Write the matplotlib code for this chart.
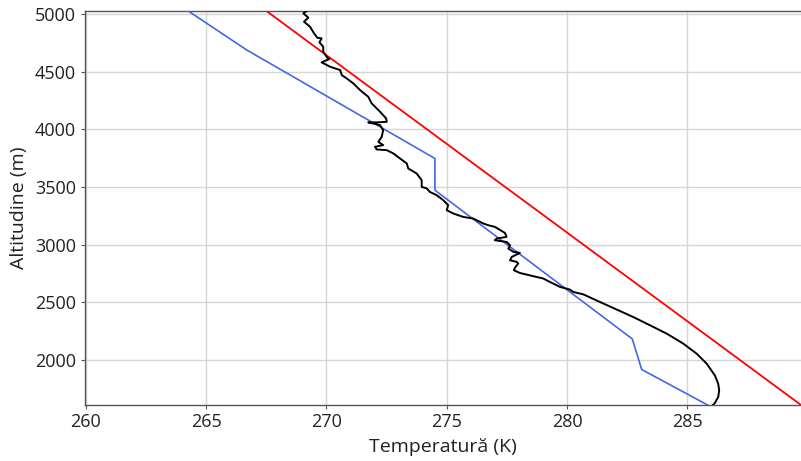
import matplotlib
matplotlib.use("Agg")
import matplotlib.pyplot as plt
import numpy as np

plt.rcParams["font.family"] = ["Open Sans", "DejaVu Sans"]

# Measured sounding: temperature (K) vs altitude (m)
sounding_temp = [
    269.18, 269.04, 269.25, 269.07, 269.32, 269.46, 269.62, 269.80, 269.71, 269.87,
    269.87, 270.01, 270.12, 269.85, 269.80, 270.15, 270.57, 270.64, 270.84, 271.12,
    271.40, 271.74, 271.88, 272.09, 272.23, 272.48, 272.51, 272.09, 271.74, 272.23,
    272.36, 272.30, 272.16, 272.36, 272.02, 272.09, 272.51, 272.78, 273.06, 273.34,
    273.40, 273.75, 273.96, 273.96, 274.17, 274.30, 274.58, 274.86, 275.06, 275.00,
    275.27, 275.69, 276.10, 276.52, 276.73, 277.00, 277.42, 277.49, 277.08, 277.00,
    277.49, 277.63, 277.56, 277.77, 278.04, 277.70, 277.63, 277.91, 277.97, 277.84,
    277.79, 278.04, 278.60, 279.01, 279.29, 279.71, 280.12, 280.26, 280.67, 281.37,
    282.06, 282.75, 283.45, 284.14, 284.83, 285.38, 285.80, 286.14, 286.28, 286.32,
    286.28, 286.14, 286.05,
]
sounding_alt = [
    5026, 5006, 4968, 4933, 4890, 4841, 4794, 4789, 4754, 4716,
    4673, 4629, 4609, 4586, 4581, 4543, 4514, 4470, 4442, 4398,
    4340, 4282, 4225, 4181, 4152, 4095, 4065, 4060, 4060, 4036,
    3993, 3935, 3891, 3863, 3848, 3825, 3819, 3791, 3747, 3704,
    3661, 3617, 3559, 3501, 3487, 3457, 3429, 3385, 3342, 3299,
    3270, 3240, 3226, 3183, 3168, 3154, 3101, 3067, 3053, 3038,
    3023, 2995, 2966, 2937, 2928, 2893, 2864, 2850, 2836, 2801,
    2778, 2754, 2726, 2706, 2676, 2633, 2610, 2589, 2569, 2502,
    2437, 2372, 2300, 2228, 2141, 2055, 1968, 1866, 1794, 1736,
    1678, 1626, 1606,
]

# Piecewise model profile
model_temp = [264.26, 266.69, 274.51, 274.51, 282.71, 283.10, 285.84]
model_alt = [5026, 4688, 3747, 3472, 2182, 1917, 1609]

# Standard-atmosphere lapse line (6.5 K/km) anchored at the lowest level
lapse_rate = 0.0065
surface_alt = 1609
surface_temp = 289.72
top_alt = 5026
lapse_alt = np.array([surface_alt, top_alt])
lapse_temp = surface_temp - lapse_rate * (lapse_alt - surface_alt)

fig = plt.figure(figsize=(8.01, 4.61), dpi=100)
ax = fig.add_axes([84.5 / 801, 1 - 405 / 461, 1 - 84.5 / 801, (405 - 11) / 461])

ax.plot(lapse_temp, lapse_alt, color="#ff0000", lw=1.3, zorder=3)
ax.plot(model_temp, model_alt, color="#4169e1", lw=1.2, zorder=4)
ax.plot(sounding_temp, sounding_alt, color="black", lw=1.4, zorder=5)

ax.set_xlim(259.95, 289.72)
ax.set_ylim(1609, 5026)
ax.set_xticks([260, 265, 270, 275, 280, 285])
ax.set_yticks([2000, 2500, 3000, 3500, 4000, 4500, 5000])

ax.grid(True, color="#d6d6d6", lw=1.0)
ax.set_axisbelow(True)
for side in ("left", "bottom", "top"):
    ax.spines[side].set_color("#555555")
    ax.spines[side].set_linewidth(1.0)
ax.spines["right"].set_visible(False)
ax.tick_params(axis="both", labelsize=13, length=3, width=0.8,
               color="#555555", labelcolor="#222222", pad=3)

ax.set_xlabel("Temperatură (K)", fontsize=14, color="#222222", labelpad=5)
ax.set_ylabel("Altitudine (m)", fontsize=14, color="#222222", labelpad=5)

fig.savefig("out.png", dpi=100)
